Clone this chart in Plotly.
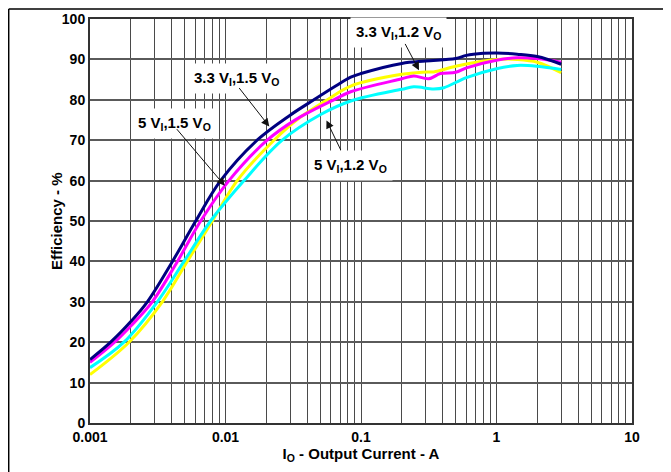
import math
import plotly.graph_objects as go

# Output current (A) and efficiency (%) per curve
cur_33vi_15vo = [0.001, 0.00142, 0.002, 0.00265, 0.00406, 0.00603, 0.0092, 0.0171, 0.03, 0.0449,
                 0.065, 0.084, 0.1, 0.2, 0.3, 0.5, 0.6, 0.8, 1.0, 1.42, 2.0, 3.0]
eff_33vi_15vo = [15.7, 20.0, 25.1, 30.0, 40.0, 50.0, 60.0, 70.0, 76.2, 80.0,
                 83.4, 85.6, 86.5, 89.0, 89.6, 90.2, 91.0, 91.5, 91.6, 91.3, 90.7, 88.8]

cur_5vi_15vo = [0.001, 0.00152, 0.002, 0.00288, 0.00442, 0.00656, 0.0106, 0.0203, 0.033, 0.063,
                0.084, 0.2, 0.245, 0.316, 0.386, 0.5, 0.6, 1.0, 1.42, 2.0, 3.0]
eff_5vi_15vo = [15.0, 20.0, 24.0, 30.0, 40.0, 50.0, 60.0, 70.0, 75.1, 80.0,
                82.0, 85.2, 85.9, 85.2, 86.5, 86.8, 87.9, 89.8, 90.4, 90.2, 89.3]

cur_33vi_12vo = [0.001, 0.00194, 0.00342, 0.00522, 0.008, 0.0122, 0.0228, 0.035, 0.0564,
                 0.084, 0.2, 0.3, 0.344, 0.5, 0.8, 1.0, 1.42, 2.0, 3.0]
eff_33vi_12vo = [12.0, 20.0, 30.0, 40.0, 50.0, 60.0, 70.0, 75.5, 80.0,
                 83.4, 86.3, 86.9, 86.9, 88.3, 89.6, 90.0, 90.0, 89.3, 86.7]

cur_5vi_12vo = [0.001, 0.00178, 0.00314, 0.00494, 0.00776, 0.0137, 0.0262, 0.05,
                0.084, 0.2, 0.245, 0.344, 0.409, 0.6, 1.0, 1.42, 2.0, 3.0]
eff_5vi_12vo = [13.7, 20.0, 30.0, 40.0, 50.0, 60.0, 70.0, 76.3,
                79.7, 82.6, 83.2, 82.7, 83.0, 85.5, 87.7, 88.5, 88.3, 87.5]

series = [
    (cur_33vi_12vo, eff_33vi_12vo, "#FFFF00"),
    (cur_5vi_12vo, eff_5vi_12vo, "#00FFFF"),
    (cur_5vi_15vo, eff_5vi_15vo, "#FF00FF"),
    (cur_33vi_15vo, eff_33vi_15vo, "#000080"),
]
series_names = ["3.3 VI,1.2 VO", "5 VI,1.2 VO", "5 VI,1.5 VO", "3.3 VI,1.5 VO"]

decades = [0.001, 0.01, 0.1, 1]
x_tickvals = []
x_ticktext = []
for d in decades:
    for m in range(1, 10):
        x_tickvals.append(d * m)
        x_ticktext.append(("<b>%g</b>" % d) if m == 1 else "")
x_tickvals.append(10)
x_ticktext.append("<b>10</b>")

fig = go.Figure()
for (xs, ys, color), name in zip(series, series_names):
    fig.add_trace(go.Scatter(x=xs, y=ys, mode="lines", name=name,
                             line=dict(color=color, width=3, shape="spline", smoothing=1.0)))

FONT = "Liberation Sans, Arial, sans-serif"

# label text, label center (A, %), arrow tail (A, %), arrow tip (A, %)
labels = [
    ("3.3 V<sub>I</sub>,1.2 V<sub>O</sub>", (0.189, 96.7), (0.209, 94.2), (0.268, 87.3)),
    ("3.3 V<sub>I</sub>,1.5 V<sub>O</sub>", (0.01205, 85.3), (0.01236, 83.3), (0.02104, 73.4)),
    ("5 V<sub>I</sub>,1.5 V<sub>O</sub>", (0.00421, 74.1), (0.00428, 73.1), (0.00989, 58.7)),
    ("5 V<sub>I</sub>,1.2 V<sub>O</sub>", (0.0838, 63.7), (0.0718, 67.2), (0.0556, 74.9)),
]

annotations = []
for text, (cx, cy), _, _ in labels:
    annotations.append(dict(x=math.log10(cx), y=cy, xref="x", yref="y", text="<b>%s</b>" % text,
                            showarrow=False, bgcolor="white", borderpad=5,
                            font=dict(family=FONT, size=15, color="black")))
for text, _, (tx, ty), (hx, hy) in labels:
    annotations.append(dict(x=math.log10(hx), y=hy, xref="x", yref="y",
                            ax=math.log10(tx), ay=ty, axref="x", ayref="y",
                            text="", showarrow=True,
                            arrowhead=2, arrowsize=1.6, arrowwidth=1, arrowcolor="#111111",
                            standoff=0, startstandoff=0))
# y-axis title
annotations.append(dict(x=-0.0627, y=0.5, xref="paper", yref="paper", text="<b>Efficiency - %</b>",
                        textangle=-90, showarrow=False, xanchor="center", yanchor="middle",
                        font=dict(family=FONT, size=15, color="black")))

fig.update_layout(
    width=671, height=472,
    margin=dict(l=82, r=47, t=11, b=57, autoexpand=False),
    paper_bgcolor="white", plot_bgcolor="white",
    showlegend=False,
    font=dict(family=FONT, size=14, color="black"),
    annotations=annotations,
    shapes=[
        dict(type="line", xref="paper", yref="paper", x0=-0.15, x1=1.2, y0=1.025, y1=1.025,
             line=dict(color="black", width=1.5)),
        dict(type="line", xref="paper", yref="paper", x0=-0.15, x1=-0.15, y0=1.025, y1=-0.3,
             line=dict(color="black", width=1.5)),
    ],
)

fig.update_xaxes(
    type="log", range=[-3, 1], automargin=False,
    tickmode="array", tickvals=x_tickvals, ticktext=x_ticktext,
    showgrid=True, gridcolor="#4a4a4a", gridwidth=1,
    showline=True, linecolor="#333333", linewidth=2, mirror=True,
    ticks="", ticklen=0,
    tickfont=dict(family=FONT, size=14, color="black"),
    title=dict(text="<b>I<sub>O</sub> - Output Current - A</b>", standoff=4,
               font=dict(family=FONT, size=15, color="black")),
    zeroline=False,
)
fig.update_yaxes(
    range=[0, 100], tickmode="linear", tick0=0, dtick=10, automargin=False,
    tickprefix="<b>", ticksuffix="</b>",
    showgrid=True, gridcolor="#5a5a5a", gridwidth=1.5,
    showline=True, linecolor="#333333", linewidth=2, mirror=True,
    ticks="", ticklen=0,
    tickfont=dict(family=FONT, size=14, color="black"),
    zeroline=False,
)

fig.write_html("out.html")
